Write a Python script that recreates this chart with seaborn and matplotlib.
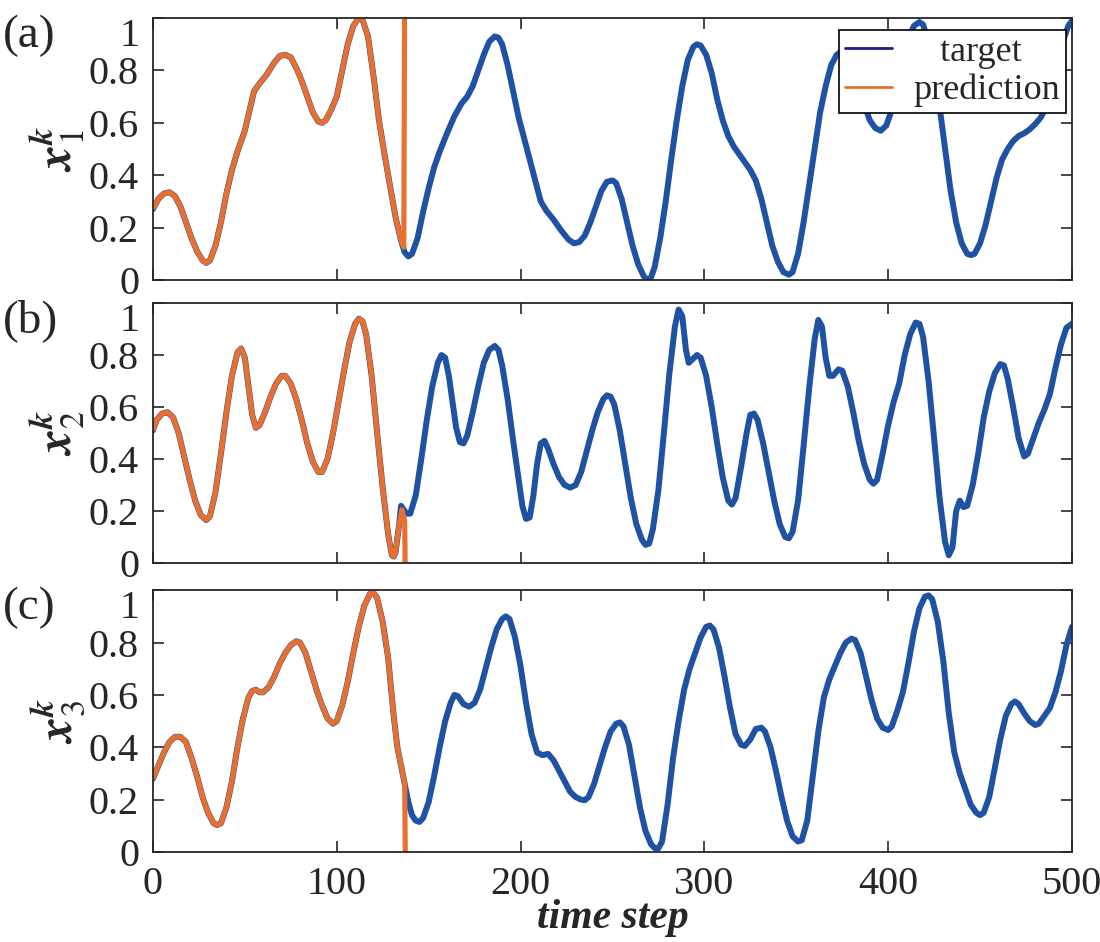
import numpy as np
import matplotlib
matplotlib.use('Agg')
import matplotlib.pyplot as plt
import seaborn as sns
from matplotlib.lines import Line2D

# (time step, value)
# (a) target x1
x1_pts = [(0, 0.27), (3, 0.31), (6, 0.33), (9, 0.335), (12, 0.32), (15, 0.28), (18, 0.22),
          (21, 0.16), (24, 0.11), (27, 0.075), (29, 0.065), (31, 0.075), (34, 0.13), (37, 0.22),
          (40, 0.33), (43, 0.42), (46, 0.49), (50, 0.57), (53, 0.66), (55, 0.72), (58, 0.75),
          (62, 0.785), (66, 0.83), (69, 0.855), (72, 0.86), (75, 0.85), (78, 0.81), (81, 0.76),
          (84, 0.70), (87, 0.64), (90, 0.605), (92, 0.60), (94, 0.61), (97, 0.65), (100, 0.70),
          (103, 0.80), (106, 0.90), (109, 0.97), (112, 1.0), (114, 0.995), (117, 0.93),
          (120, 0.78), (123, 0.61), (126, 0.48), (129, 0.36), (132, 0.24), (135, 0.15),
          (137, 0.105), (139, 0.09), (141, 0.10), (144, 0.16), (147, 0.26), (150, 0.35),
          (153, 0.43), (156, 0.49), (160, 0.56), (164, 0.625), (168, 0.675), (171, 0.70),
          (174, 0.74), (177, 0.80), (180, 0.86), (183, 0.91), (186, 0.93), (188, 0.925),
          (190, 0.90), (193, 0.82), (196, 0.72), (199, 0.62), (202, 0.54), (205, 0.46),
          (208, 0.38), (211, 0.30), (214, 0.265), (218, 0.23), (222, 0.19), (226, 0.155),
          (229, 0.14), (232, 0.145), (235, 0.17), (238, 0.22), (241, 0.28), (244, 0.34),
          (247, 0.375), (250, 0.38), (252, 0.37), (255, 0.31), (258, 0.22), (261, 0.13),
          (264, 0.06), (267, 0.015), (269, 0.0), (271, 0.01), (273, 0.05), (276, 0.16),
          (279, 0.30), (282, 0.46), (285, 0.61), (288, 0.74), (291, 0.84), (294, 0.89),
          (296, 0.90), (298, 0.895), (301, 0.86), (304, 0.79), (307, 0.69), (310, 0.61),
          (313, 0.55), (316, 0.51), (319, 0.48), (322, 0.45), (325, 0.42), (328, 0.38),
          (331, 0.31), (334, 0.22), (337, 0.13), (340, 0.07), (343, 0.03), (346, 0.02),
          (348, 0.03), (351, 0.10), (354, 0.22), (357, 0.36), (360, 0.50), (363, 0.64),
          (366, 0.74), (369, 0.82), (372, 0.86), (375, 0.875), (378, 0.86), (381, 0.81),
          (384, 0.74), (387, 0.67), (390, 0.61), (393, 0.58), (396, 0.57), (399, 0.59),
          (402, 0.65), (405, 0.74), (408, 0.84), (411, 0.92), (414, 0.97), (417, 0.985),
          (419, 0.975), (422, 0.91), (425, 0.81), (428, 0.66), (431, 0.50), (434, 0.34),
          (437, 0.22), (440, 0.14), (443, 0.10), (445, 0.095), (447, 0.10), (450, 0.14),
          (453, 0.21), (456, 0.30), (459, 0.39), (462, 0.46), (465, 0.50), (468, 0.53),
          (471, 0.55), (474, 0.56), (477, 0.575), (480, 0.595), (483, 0.62), (486, 0.66),
          (489, 0.73), (492, 0.82), (495, 0.91), (498, 0.97), (500, 0.99)]

# (b) target x2
x2_pts = [(0, 0.51), (2, 0.55), (5, 0.575), (8, 0.58), (11, 0.56), (14, 0.50), (17, 0.41),
          (20, 0.32), (23, 0.24), (26, 0.185), (29, 0.165), (31, 0.18), (34, 0.27), (37, 0.42),
          (40, 0.58), (43, 0.72), (46, 0.81), (48, 0.825), (50, 0.79), (52, 0.68), (54, 0.57),
          (56, 0.52), (58, 0.53), (61, 0.58), (64, 0.64), (67, 0.69), (70, 0.72), (72, 0.72),
          (75, 0.69), (78, 0.63), (81, 0.55), (84, 0.46), (87, 0.39), (90, 0.35), (92, 0.35),
          (95, 0.40), (98, 0.50), (101, 0.62), (104, 0.74), (107, 0.85), (110, 0.92),
          (112, 0.94), (114, 0.93), (116, 0.88), (119, 0.72), (122, 0.50), (125, 0.29),
          (128, 0.11), (130, 0.03), (131, 0.025), (132, 0.04), (134, 0.15), (135, 0.22),
          (136, 0.21), (138, 0.19), (140, 0.19), (143, 0.26), (146, 0.40), (149, 0.55),
          (152, 0.68), (155, 0.77), (157, 0.80), (159, 0.79), (161, 0.72), (163, 0.62),
          (165, 0.52), (167, 0.465), (169, 0.46), (171, 0.49), (174, 0.58), (177, 0.68),
          (180, 0.77), (183, 0.82), (186, 0.835), (188, 0.82), (190, 0.76), (193, 0.63),
          (196, 0.47), (199, 0.32), (201, 0.22), (203, 0.17), (205, 0.175), (207, 0.26),
          (209, 0.38), (211, 0.46), (213, 0.47), (215, 0.44), (218, 0.38), (221, 0.33),
          (224, 0.30), (227, 0.29), (230, 0.30), (233, 0.35), (236, 0.43), (239, 0.51),
          (242, 0.58), (245, 0.63), (247, 0.645), (249, 0.64), (251, 0.61), (254, 0.51),
          (257, 0.38), (260, 0.25), (263, 0.15), (266, 0.09), (268, 0.07), (270, 0.075),
          (272, 0.13), (275, 0.28), (278, 0.50), (281, 0.73), (284, 0.91), (286, 0.975),
          (288, 0.95), (290, 0.82), (291.5, 0.77), (293, 0.78), (296, 0.80), (298, 0.79),
          (301, 0.72), (304, 0.60), (307, 0.46), (310, 0.33), (313, 0.24), (315, 0.225),
          (317, 0.25), (320, 0.37), (323, 0.50), (325, 0.57), (327, 0.575), (329, 0.55),
          (332, 0.46), (335, 0.35), (338, 0.24), (341, 0.15), (344, 0.10), (346, 0.095),
          (348, 0.12), (351, 0.24), (354, 0.45), (357, 0.67), (360, 0.86), (362, 0.935),
          (364, 0.91), (366, 0.79), (368, 0.72), (370, 0.72), (373, 0.745), (375, 0.74),
          (378, 0.68), (381, 0.58), (384, 0.47), (387, 0.38), (390, 0.32), (392, 0.305),
          (394, 0.32), (397, 0.42), (400, 0.53), (403, 0.62), (406, 0.69), (409, 0.80),
          (412, 0.88), (415, 0.925), (417, 0.92), (419, 0.87), (422, 0.70), (425, 0.48),
          (428, 0.25), (431, 0.08), (433, 0.03), (435, 0.06), (437, 0.20), (439, 0.24),
          (441, 0.215), (443, 0.22), (446, 0.30), (449, 0.42), (452, 0.56), (455, 0.66),
          (458, 0.73), (461, 0.765), (463, 0.76), (465, 0.71), (468, 0.60), (471, 0.48),
          (474, 0.41), (476, 0.42), (479, 0.48), (482, 0.54), (485, 0.59), (488, 0.65),
          (491, 0.75), (494, 0.84), (497, 0.905), (500, 0.92)]

# (c) target x3
x3_pts = [(0, 0.28), (3, 0.33), (6, 0.38), (9, 0.42), (12, 0.44), (15, 0.44), (18, 0.42),
          (21, 0.36), (24, 0.29), (27, 0.21), (30, 0.15), (33, 0.11), (35, 0.103), (37, 0.11),
          (40, 0.17), (43, 0.27), (46, 0.40), (49, 0.51), (52, 0.59), (54, 0.615), (56, 0.62),
          (58, 0.61), (60, 0.61), (63, 0.63), (66, 0.67), (69, 0.72), (72, 0.76), (75, 0.79),
          (78, 0.805), (80, 0.80), (83, 0.76), (86, 0.69), (89, 0.62), (92, 0.56), (95, 0.51),
          (98, 0.49), (100, 0.50), (103, 0.56), (106, 0.65), (109, 0.76), (112, 0.86),
          (115, 0.94), (118, 0.985), (120, 0.99), (122, 0.97), (125, 0.88), (128, 0.74),
          (131, 0.52), (133, 0.40), (135, 0.33), (137, 0.26), (139, 0.19), (141, 0.14),
          (143, 0.12), (145, 0.115), (147, 0.13), (150, 0.19), (153, 0.29), (156, 0.40),
          (159, 0.50), (162, 0.57), (164, 0.60), (166, 0.595), (169, 0.565), (172, 0.555),
          (175, 0.57), (178, 0.62), (181, 0.70), (184, 0.78), (187, 0.85), (190, 0.89),
          (192, 0.90), (194, 0.89), (197, 0.82), (200, 0.71), (203, 0.57), (206, 0.45),
          (209, 0.38), (212, 0.37), (215, 0.375), (218, 0.35), (221, 0.31), (224, 0.27),
          (227, 0.23), (230, 0.21), (233, 0.20), (235, 0.198), (237, 0.21), (240, 0.26),
          (243, 0.33), (246, 0.40), (249, 0.46), (252, 0.49), (254, 0.495), (256, 0.48),
          (259, 0.41), (262, 0.29), (265, 0.17), (268, 0.08), (271, 0.03), (273, 0.015),
          (275, 0.014), (277, 0.04), (280, 0.18), (283, 0.36), (286, 0.50), (289, 0.62),
          (292, 0.70), (295, 0.76), (298, 0.82), (301, 0.86), (303, 0.865), (305, 0.85),
          (308, 0.78), (311, 0.67), (314, 0.55), (317, 0.45), (320, 0.41), (322, 0.405),
          (325, 0.43), (328, 0.47), (331, 0.475), (333, 0.46), (336, 0.40), (339, 0.31),
          (342, 0.21), (345, 0.12), (348, 0.06), (351, 0.04), (353, 0.045), (356, 0.12),
          (359, 0.29), (362, 0.46), (365, 0.59), (368, 0.66), (371, 0.71), (374, 0.76),
          (377, 0.80), (380, 0.815), (382, 0.81), (385, 0.76), (388, 0.67), (391, 0.58),
          (394, 0.51), (397, 0.475), (400, 0.466), (402, 0.48), (405, 0.54), (408, 0.61),
          (411, 0.72), (414, 0.84), (417, 0.93), (420, 0.975), (422, 0.98), (424, 0.965),
          (427, 0.88), (430, 0.73), (433, 0.53), (436, 0.38), (439, 0.30), (442, 0.24),
          (445, 0.18), (448, 0.15), (450, 0.141), (452, 0.15), (455, 0.21), (458, 0.32),
          (461, 0.43), (464, 0.52), (467, 0.565), (469, 0.575), (471, 0.565), (474, 0.53),
          (477, 0.50), (480, 0.485), (482, 0.49), (485, 0.52), (488, 0.55), (491, 0.61),
          (494, 0.69), (497, 0.79), (500, 0.86)]

# prediction tracks the target up to the cutoff, then breaks away
cut_a, tail_a = 135, [(136.5, 0.125), (137, 1.2)]
cut_b, tail_b = 134, [(135.5, 0.205), (137, 0.16), (137.5, -0.2)]
cut_c, tail_c = 135, [(137, 0.26), (137.5, -0.2)]

panels = ['(a)', '(b)', '(c)']
ylabels = [r'$\mathbfit{x}_{\mathit{1}}^{\mathbfit{k}}$',
           r'$\mathbfit{x}_{\mathit{2}}^{\mathbfit{k}}$',
           r'$\mathbfit{x}_{\mathit{3}}^{\mathbfit{k}}$']
yticks = [0, 0.2, 0.4, 0.6, 0.8, 1]
ytick_labels = ['0', '0.2', '0.4', '0.6', '0.8', '1']
xticks = [0, 100, 200, 300, 400, 500]

blue = '#1f52a3'
orange = '#e86f2e'

sns.set_style('ticks')
plt.rcParams['font.family'] = ['Liberation Serif', 'DejaVu Serif']
plt.rcParams['mathtext.fontset'] = 'stix'

fig = plt.figure(figsize=(11, 9.42), dpi=100)
boxes = [[0.139, 0.7028, 0.8355, 0.278],
         [0.139, 0.4023, 0.8355, 0.276],
         [0.139, 0.0955, 0.8355, 0.278]]

targets = [x1_pts, x2_pts, x3_pts]
cuts = [(cut_a, tail_a), (cut_b, tail_b), (cut_c, tail_c)]

for i in range(3):
    ax = fig.add_axes(boxes[i])
    tt, yy = zip(*targets[i])
    cut, tail = cuts[i]
    pred = [p for p in targets[i] if p[0] <= cut] + tail
    tp, yp = zip(*pred)

    sns.lineplot(x=list(tt), y=list(yy), ax=ax, color=blue, lw=4.3,
                 sort=False, solid_joinstyle='round', solid_capstyle='round')
    sns.lineplot(x=list(tp), y=list(yp), ax=ax, color=orange, lw=3.7,
                 sort=False, solid_joinstyle='round', solid_capstyle='butt')
    ax.set_xlim(0, 500)
    ax.set_ylim(0, 1)
    ax.set_yticks(yticks)
    ax.set_yticklabels(ytick_labels)
    ax.set_xticks(xticks)
    if i < 2:
        ax.set_xticklabels([])
    ax.tick_params(direction='in', top=True, right=True, length=8, width=1.2,
                   labelsize=29, pad=10)
    # top label hangs below the tick, as in the original
    ax.get_yticklabels()[-1].set_verticalalignment('top')
    for s in ax.spines.values():
        s.set_linewidth(1.3)
    ax.set_ylabel(ylabels[i], fontsize=35, labelpad=0)
    ax.yaxis.set_label_coords(-0.072, 0.5)
    fig.text(0.003, boxes[i][1] + boxes[i][3] + 0.004, panels[i],
             fontsize=34, va='top', ha='left')

    if i == 0:
        handles = [Line2D([], [], color='#1b1b8c', lw=2),
                   Line2D([], [], color=orange, lw=2)]
        leg = ax.legend(handles, ['   target', 'prediction'], loc='upper right',
                        bbox_to_anchor=(0.993, 0.955), fontsize=26, frameon=True,
                        fancybox=False, edgecolor='black', framealpha=1,
                        handlelength=1.3, borderpad=0.15, labelspacing=0.15,
                        handletextpad=0.6, borderaxespad=0)
        leg.get_frame().set_linewidth(1.2)
    elif ax.get_legend():
        ax.get_legend().remove()

    if i == 2:
        ax.set_xlabel('time step', fontsize=30, fontweight='bold',
                      fontstyle='italic', labelpad=-3)

fig.savefig('out.png', dpi=100)
